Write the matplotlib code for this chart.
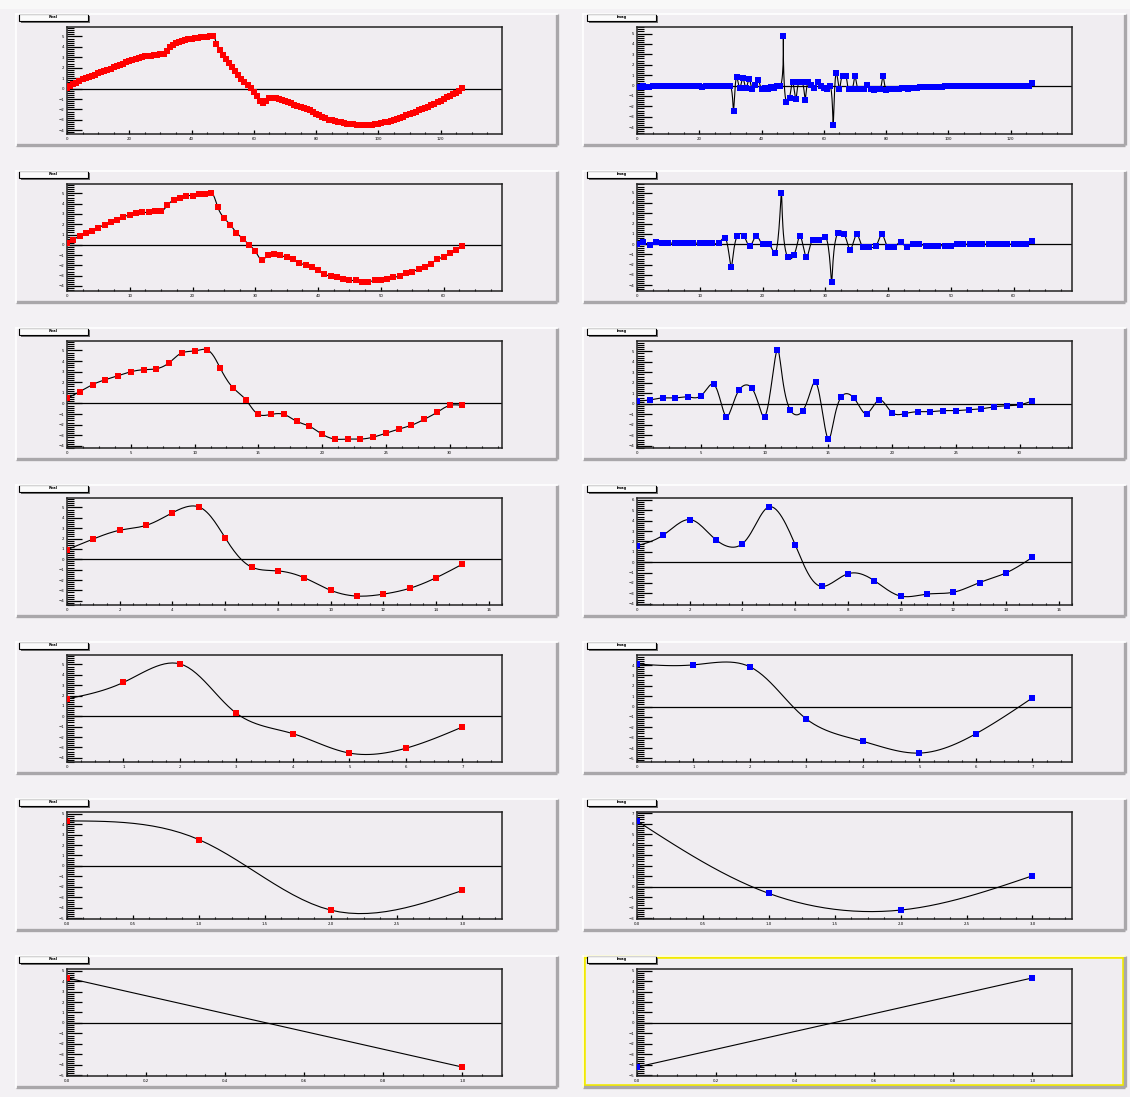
import numpy as np
import matplotlib
matplotlib.use("Agg")
import matplotlib.pyplot as plt
from matplotlib.patches import Rectangle
from matplotlib.ticker import MultipleLocator

# values, one array per pad (left = red, right = blue)
re_128 = [0.10, 0.22, 0.40, 0.58, 0.75, 0.90, 1.05, 1.15, 1.25, 1.35,
          1.45, 1.55, 1.65, 1.80, 1.92, 2.05, 2.15, 2.28, 2.40, 2.55,
          2.68, 2.75, 2.85, 2.95, 3.02, 3.08, 3.12, 3.15, 3.22, 3.26,
          3.28, 3.35, 3.65, 3.95, 4.20, 4.35, 4.45, 4.55, 4.65, 4.72,
          4.78, 4.82, 4.86, 4.90, 4.92, 4.95, 5.00, 5.05, 4.30, 3.70,
          3.20, 2.80, 2.45, 2.05, 1.70, 1.30, 0.95, 0.65, 0.35, 0.05,
          -0.30, -0.75, -1.20, -1.40, -1.15, -0.95, -0.88, -0.92, -1.00, -1.08,
          -1.15, -1.25, -1.38, -1.55, -1.70, -1.80, -1.90, -2.00, -2.10, -2.25,
          -2.40, -2.55, -2.72, -2.85, -2.98, -3.06, -3.12, -3.18, -3.24, -3.30,
          -3.36, -3.40, -3.44, -3.46, -3.48, -3.50, -3.50, -3.48, -3.46, -3.42,
          -3.38, -3.32, -3.25, -3.18, -3.10, -3.00, -2.90, -2.80, -2.70, -2.58,
          -2.46, -2.35, -2.22, -2.10, -1.98, -1.85, -1.72, -1.58, -1.45, -1.30,
          -1.15, -1.00, -0.85, -0.70, -0.55, -0.40, -0.22, 0.05]
im_128 = [-0.10, -0.12, -0.08, -0.12, -0.10, -0.08, -0.06, -0.05, -0.05, -0.05,
          -0.05, -0.05, -0.06, -0.05, -0.05, -0.04, -0.05, -0.05, -0.05, -0.05,
          -0.05, -0.10, -0.05, -0.05, -0.05, -0.05, -0.05, -0.05, -0.05, -0.05,
          -0.05, -2.40, 0.80, -0.20, 0.70, -0.25, 0.65, -0.35, 0.10, 0.50,
          -0.30, -0.20, -0.30, -0.10, -0.25, 0.00, -0.05, 4.77, -1.60, -1.15,
          0.35, -1.28, 0.30, 0.35, -1.37, 0.35, 0.10, -0.25, 0.35, 0.00,
          -0.25, -0.30, -0.05, -3.80, 1.18, -0.30, 0.96, 0.93, -0.35, -0.35,
          0.96, -0.30, -0.35, -0.30, 0.10, -0.30, -0.40, -0.30, -0.35, 0.93,
          -0.40, -0.35, -0.30, -0.30, -0.35, -0.25, -0.25, -0.30, -0.25, -0.25,
          -0.20, -0.18, -0.15, -0.15, -0.12, -0.12, -0.10, -0.10, -0.10, -0.08,
          -0.08, -0.08, -0.06, -0.06, -0.06, -0.05, -0.05, -0.05, -0.04, -0.04,
          -0.04, -0.03, -0.03, -0.03, -0.03, -0.02, -0.02, -0.02, -0.02, -0.02,
          -0.01, -0.01, -0.01, -0.01, -0.01, 0.00, 0.00, 0.20]
re_64 = [0.16, 0.47, 0.88, 1.17, 1.36, 1.67, 1.96, 2.21, 2.46, 2.74,
         2.90, 3.06, 3.15, 3.15, 3.28, 3.25, 3.85, 4.35, 4.51, 4.79,
         4.79, 4.92, 4.92, 5.05, 3.69, 2.62, 1.96, 1.17, 0.60, 0.00,
         -0.63, -1.45, -1.04, -0.88, -1.04, -1.20, -1.42, -1.74, -1.99, -2.21,
         -2.46, -2.84, -3.06, -3.15, -3.31, -3.47, -3.47, -3.63, -3.63, -3.47,
         -3.47, -3.31, -3.15, -3.06, -2.78, -2.62, -2.37, -2.15, -1.83, -1.42,
         -1.17, -0.79, -0.47, -0.09]
im_64 = [0.00, 0.16, -0.06, 0.16, 0.10, 0.10, 0.10, 0.10, 0.10, 0.10,
         0.10, 0.10, 0.10, 0.10, 0.63, -2.18, 0.82, 0.82, -0.22, 0.82,
         0.00, 0.00, -0.85, 4.98, -1.26, -1.07, 0.82, -1.26, 0.41, 0.41,
         0.73, -3.69, 1.10, 0.98, -0.54, 0.95, -0.32, -0.32, -0.22, 0.98,
         -0.32, -0.32, 0.19, -0.32, 0.00, 0.00, -0.16, -0.16, -0.16, -0.16,
         -0.16, 0.00, 0.00, 0.00, 0.00, 0.00, 0.00, 0.00, 0.00, 0.00,
         0.00, 0.00, 0.00, 0.32]
re_32 = [0.47, 1.12, 1.78, 2.24, 2.62, 2.99, 3.18, 3.27, 3.83, 4.77,
         4.95, 5.05, 3.36, 1.50, 0.37, -1.03, -1.03, -1.03, -1.68, -2.15,
         -2.90, -3.36, -3.36, -3.36, -3.18, -2.80, -2.43, -2.06, -1.50, -0.84,
         -0.19, -0.19]
im_32 = [0.28, 0.37, 0.56, 0.56, 0.65, 0.75, 1.87, -1.21, 1.31, 1.50,
         -1.21, 5.14, -0.56, -0.65, 2.06, -3.36, 0.65, 0.56, -0.93, 0.37,
         -0.84, -0.93, -0.75, -0.75, -0.65, -0.65, -0.56, -0.47, -0.28, -0.19,
         -0.09, 0.28]
re_16 = [0.93, 1.96, 2.80, 3.27, 4.49, 5.05, 2.06, -0.75, -1.12, -1.78,
         -2.99, -3.55, -3.36, -2.80, -1.78, -0.47]
im_16 = [1.59, 2.62, 4.11, 2.15, 1.78, 5.33, 1.68, -2.34, -1.12, -1.78,
         -3.27, -3.08, -2.90, -1.96, -1.03, 0.47]
re_8 = [1.68, 3.27, 5.05, 0.28, -1.68, -3.55, -3.08, -1.03]
im_8 = [4.11, 4.02, 3.83, -1.21, -3.36, -4.49, -2.62, 0.84]
re_4 = [4.30, 2.52, -4.21, -2.34]
im_4 = [6.26, -0.65, -2.24, 1.03]
re_2 = [4.30, -4.21]
im_2 = [-4.21, 4.30]

rows = [(re_128, im_128, 20), (re_64, im_64, 10), (re_32, im_32, 5),
        (re_16, im_16, 2), (re_8, im_8, 1), (re_4, im_4, 0.5), (re_2, im_2, 0.2)]

W, H = 1130, 1097
CANVAS = '#f3f1f4'
PAD = '#f0edf1'


def rect(x, y, w, h):
    return [x / W, 1 - (y + h) / H, w / W, h / H]


def second_derivs(t, v):
    n = len(t)
    if n < 3:
        return np.zeros(n)
    h = np.diff(t)
    A = np.zeros((n, n))
    b = np.zeros(n)
    A[0, 0] = A[-1, -1] = 1
    for i in range(1, n - 1):
        A[i, i - 1] = h[i - 1]
        A[i, i] = 2 * (h[i - 1] + h[i])
        A[i, i + 1] = h[i]
        b[i] = 6 * ((v[i + 1] - v[i]) / h[i] - (v[i] - v[i - 1]) / h[i - 1])
    return np.linalg.solve(A, b)


def eval_spline(t, v, M, tt):
    idx = np.clip(np.searchsorted(t, tt) - 1, 0, len(t) - 2)
    h = t[idx + 1] - t[idx]
    a = (t[idx + 1] - tt) / h
    c = (tt - t[idx]) / h
    return a * v[idx] + c * v[idx + 1] + ((a ** 3 - a) * M[idx] + (c ** 3 - c) * M[idx + 1]) * h ** 2 / 6


def smooth(x, y, xspan, yspan):
    # parametric spline in frame-normalised coordinates, like a "C" graph option
    u = x / xspan
    w = y / yspan * (107 / 435)
    d = np.hypot(np.diff(u), np.diff(w)) ** 0.5 + 1e-9
    t = np.concatenate([[0], np.cumsum(d)])
    tt = np.concatenate([np.linspace(t[i], t[i + 1], 14, endpoint=False) for i in range(len(t) - 1)] + [[t[-1]]])
    us = eval_spline(t, u, second_derivs(t, u), tt)
    ws = eval_spline(t, w, second_derivs(t, w), tt)
    return us * xspan, ws * yspan / (107 / 435)


fig = plt.figure(figsize=(W / 100, H / 100), dpi=100)
fig.patch.set_facecolor(CANVAS)
bg = fig.add_axes([0, 0, 1, 1])
bg.set_xlim(0, W)
bg.set_ylim(H, 0)
bg.axis('off')
bg.add_patch(Rectangle((0, 0), W, 9, facecolor='#f8f8f8', edgecolor='none'))

for k, (re_vals, im_vals, step) in enumerate(rows):
    top = 14 + 157 * k
    for col, (vals, color) in enumerate([(re_vals, '#ff0000'), (im_vals, '#0000ff')]):
        px = 16 if col == 0 else 583
        pw = 541 if col == 0 else 542
        # pad with bevel border
        bg.add_patch(Rectangle((px, top), pw, 131, facecolor=PAD, edgecolor='none'))
        bg.plot([px, px + pw], [top + 131, top + 131], color='#a9a7aa', lw=2.4, solid_capstyle='butt')
        bg.plot([px + pw, px + pw], [top, top + 131], color='#a9a7aa', lw=2.4, solid_capstyle='butt')
        bg.plot([px, px + pw], [top, top], color='white', lw=1.2)
        bg.plot([px, px], [top, top + 131], color='white', lw=1.2)
        if k == 6 and col == 1:
            bg.add_patch(Rectangle((px + 1, top + 1), pw - 2, 129, facecolor='none',
                                   edgecolor='#f2ea00', lw=2.6))
        # title box
        tx = 19 if col == 0 else 587
        bg.add_patch(Rectangle((tx + 2, top + 1.5), 69, 7, facecolor='#6e6e6e', edgecolor='none'))
        bg.add_patch(Rectangle((tx, top - 0.5), 69, 7, facecolor='#fbfbfb', edgecolor='black', lw=0.8))
        bg.text(tx + 34.5, top + 3, 'Real' if col == 0 else 'Imag', fontsize=2.6,
                fontweight='bold', ha='center', va='center')

        fx = 67 if col == 0 else 637
        ax = fig.add_axes(rect(fx, 27 + 157 * k, 435, 107))
        ax.set_facecolor(PAD)
        y = np.array(vals, dtype=float)
        x = np.arange(len(y), dtype=float)
        xmax = 1.1 * x[-1]
        dy = y.max() - y.min()
        ylo, yhi = y.min() - 0.1 * dy, y.max() + 0.1 * dy
        ax.set_xlim(0, xmax)
        ax.set_ylim(ylo, yhi)
        ax.axhline(0, color='black', lw=0.9, zorder=1)
        xs, ys = smooth(x, y, xmax, yhi - ylo)
        ax.plot(xs, ys, color='black', lw=0.8, zorder=2)
        ax.plot(x, y, 's', color=color, ms=4.3, mew=0, zorder=3)

        ax.xaxis.set_major_locator(MultipleLocator(step))
        ax.xaxis.set_minor_locator(MultipleLocator(step / 4))
        ax.yaxis.set_major_locator(MultipleLocator(1))
        ax.yaxis.set_minor_locator(MultipleLocator(0.2))
        ax.tick_params(axis='y', which='major', direction='in', length=10.5, width=0.9,
                       labelsize=2.8, pad=2)
        ax.tick_params(axis='y', which='minor', direction='in', length=5, width=0.8)
        ax.tick_params(axis='x', which='major', direction='in', length=3, width=0.9,
                       labelsize=2.8, pad=2)
        ax.tick_params(axis='x', which='minor', direction='in', length=1.6, width=0.8)
        for s in ax.spines.values():
            s.set_linewidth(1.1)
            s.set_color('#222222')

fig.savefig('out.png', dpi=100, facecolor=CANVAS)
